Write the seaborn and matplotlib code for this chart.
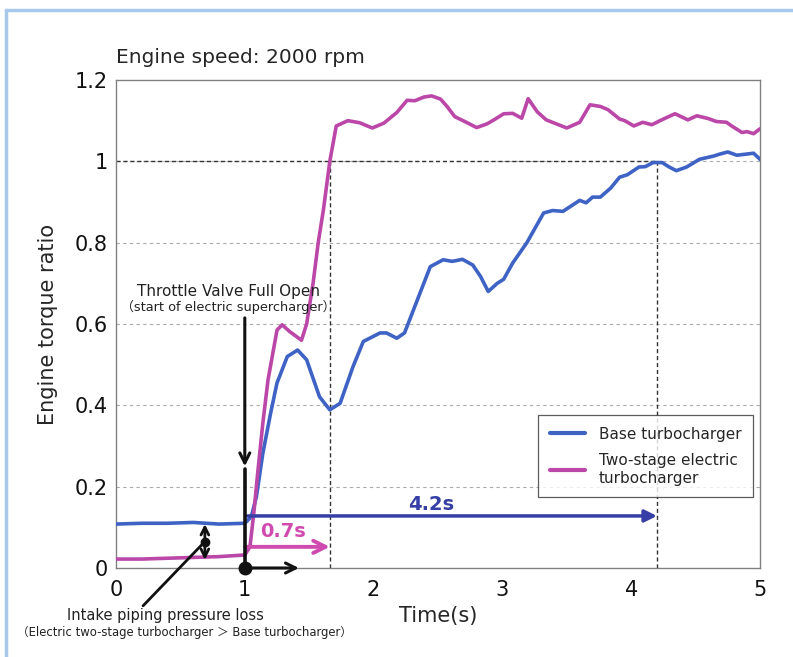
import numpy as np
import pandas as pd
import matplotlib
matplotlib.use('Agg')
import matplotlib.pyplot as plt
from matplotlib.lines import Line2D
import seaborn as sns

# Base turbocharger
base_time = [0, 0.2, 0.4, 0.6, 0.8, 1.0, 1.05, 1.09, 1.14, 1.2, 1.25, 1.33, 1.41, 1.48,
             1.58, 1.66, 1.74, 1.84, 1.92, 2.05, 2.1, 2.18, 2.24, 2.31, 2.44, 2.54, 2.61,
             2.69, 2.77, 2.83, 2.89, 2.96, 3.01, 3.08, 3.19, 3.32, 3.39, 3.47, 3.6, 3.65,
             3.7, 3.76, 3.84, 3.91, 3.97, 4.06, 4.11, 4.17, 4.24, 4.29, 4.35, 4.43, 4.53,
             4.64, 4.69, 4.75, 4.82, 4.9, 4.95, 5.0]
base_ratio = [0.108, 0.11, 0.11, 0.112, 0.108, 0.11, 0.126, 0.175, 0.282, 0.38, 0.455, 0.52,
              0.536, 0.512, 0.421, 0.389, 0.405, 0.495, 0.557, 0.578, 0.578, 0.565, 0.578,
              0.635, 0.741, 0.758, 0.754, 0.759, 0.745, 0.717, 0.68, 0.70, 0.71, 0.75, 0.80,
              0.873, 0.879, 0.877, 0.904, 0.898, 0.912, 0.912, 0.934, 0.961, 0.967, 0.986,
              0.987, 0.997, 0.997, 0.987, 0.977, 0.986, 1.005, 1.013, 1.018, 1.023, 1.015,
              1.018, 1.02, 1.005]

# Two-stage electric turbocharger
elec_time = [0, 0.2, 0.4, 0.6, 0.8, 1.0, 1.04, 1.07, 1.1, 1.14, 1.18, 1.25, 1.29, 1.35,
             1.44, 1.48, 1.53, 1.57, 1.61, 1.66, 1.71, 1.8, 1.89, 1.99, 2.08, 2.18, 2.26,
             2.32, 2.39, 2.45, 2.52, 2.57, 2.63, 2.72, 2.8, 2.88, 2.94, 3.01, 3.08, 3.15,
             3.2, 3.27, 3.34, 3.42, 3.5, 3.6, 3.68, 3.76, 3.82, 3.91, 3.95, 4.02, 4.09,
             4.16, 4.25, 4.34, 4.44, 4.51, 4.6, 4.66, 4.74, 4.78, 4.86, 4.9, 4.95, 5.0]
elec_ratio = [0.022, 0.022, 0.024, 0.026, 0.028, 0.032, 0.052, 0.135, 0.233, 0.356, 0.462,
              0.585, 0.598, 0.581, 0.56, 0.60, 0.70, 0.80, 0.88, 1.0, 1.087, 1.10, 1.095,
              1.082, 1.094, 1.12, 1.15, 1.149, 1.158, 1.161, 1.153, 1.135, 1.11, 1.096,
              1.083, 1.092, 1.103, 1.117, 1.118, 1.106, 1.154, 1.122, 1.102, 1.092, 1.082,
              1.096, 1.139, 1.135, 1.127, 1.104, 1.10, 1.087, 1.096, 1.09, 1.104, 1.117,
              1.102, 1.112, 1.105, 1.098, 1.096, 1.087, 1.071, 1.073, 1.068, 1.08]

series_names = ['Base turbocharger', 'Two-stage electric\nturbocharger']
y_ticks = [0, 0.2, 0.4, 0.6, 0.8, 1.0, 1.2]
y_tick_labels = ['0', '0.2', '0.4', '0.6', '0.8', '1', '1.2']
x_ticks = [0, 1, 2, 3, 4, 5]

t_open = 1.0      # throttle full open
t_elec = 1.66     # electric reaches ratio 1 (0.7s)
t_base = 4.2      # base reaches ratio 1 (4.2s)

blue = '#3f63c4'
magenta = '#bb47a8'
arrow_blue = '#363fa6'
arrow_pink = '#d04bb0'

df = pd.concat([
    pd.DataFrame({'time': base_time, 'ratio': base_ratio, 'series': series_names[0]}),
    pd.DataFrame({'time': elec_time, 'ratio': elec_ratio, 'series': series_names[1]}),
])

sns.set_style('white')
plt.rcParams['font.family'] = ['DejaVu Sans', 'Noto Sans CJK JP']

fig = plt.figure(figsize=(7.93, 6.57), dpi=100)
ax = fig.add_axes([116 / 793, 89 / 657, 644 / 793, 488 / 657])

sns.lineplot(data=df, x='time', y='ratio', hue='series', estimator=None,
             palette={series_names[0]: blue, series_names[1]: magenta},
             lw=2.6, ax=ax, zorder=3, solid_joinstyle='round', solid_capstyle='round')

ax.set_xlim(0, 5)
ax.set_ylim(0, 1.2)
ax.set_xticks(x_ticks)
ax.set_xticklabels([str(v) for v in x_ticks])
ax.set_yticks(y_ticks)
ax.set_yticklabels(y_tick_labels)
ax.tick_params(axis='both', direction='in', length=4, color='#888888', labelsize=15,
               labelcolor='#111111')
ax.tick_params(axis='x', pad=9, top=False)
ax.tick_params(axis='y', pad=6, right=False)
for s in ax.spines.values():
    s.set_color('#808080')
    s.set_linewidth(1)

for yv in [0.2, 0.4, 0.6, 0.8, 1.0]:
    ax.axhline(yv, color='#aaaaaa', lw=0.8, ls=(0, (3, 3)), zorder=1)

ax.set_xlabel('Time(s)', fontsize=15, labelpad=4)
ax.set_ylabel('Engine torque ratio', fontsize=15, labelpad=12)
ax.text(0.0, 1.035, 'Engine speed: 2000 rpm', transform=ax.transAxes, fontsize=14.5,
        va='baseline', ha='left')

# reference lines for time to reach ratio 1
ax.plot([0, t_base], [1, 1], color='#333333', lw=1, ls=(0, (3, 2)), zorder=2)
ax.plot([t_elec, t_elec], [0, 1], color='#333333', lw=1, ls=(0, (3, 2)), zorder=2)
ax.plot([t_base, t_base], [0, 1], color='#333333', lw=1, ls=(0, (3, 2)), zorder=2)

# time arrows
ax.annotate('', xy=(t_base, 0.128), xytext=(t_open + 0.02, 0.128),
            arrowprops=dict(arrowstyle='-|>', color=arrow_blue, lw=2.5, mutation_scale=18,
                            shrinkA=0, shrinkB=0), zorder=4)
ax.text(2.45, 0.157, '4.2s', color=arrow_blue, fontsize=14, fontweight='bold',
        ha='center', va='center')
ax.annotate('', xy=(t_elec, 0.052), xytext=(t_open, 0.052),
            arrowprops=dict(arrowstyle='->', color=arrow_pink, lw=2.8, mutation_scale=22,
                            shrinkA=0, shrinkB=0), zorder=4)
ax.text(1.30, 0.089, '0.7s', color=arrow_pink, fontsize=14, fontweight='bold',
        ha='center', va='center')

# throttle open marker
ax.annotate('', xy=(t_open, 0.25), xytext=(t_open, 0.615),
            arrowprops=dict(arrowstyle='->', color='#111111', lw=2.2, mutation_scale=18,
                            shrinkA=0, shrinkB=0), zorder=5)
ax.plot([t_open, t_open], [0, 0.243], color='#111111', lw=2.6, zorder=5, clip_on=False)
ax.annotate('', xy=(1.42, 0.0), xytext=(t_open, 0.0),
            arrowprops=dict(arrowstyle='->', color='#111111', lw=2.2, mutation_scale=18,
                            shrinkA=0, shrinkB=0), zorder=5, annotation_clip=False)
ax.plot([t_open], [0], 'o', color='#111111', ms=9, zorder=6, clip_on=False)

ax.text(0.87, 0.679, 'Throttle Valve Full Open', fontsize=11,
        ha='center', va='center', color='#222222')
ax.text(0.87, 0.641, '（start of electric supercharger）', fontsize=9.3,
        ha='center', va='center', color='#222222')

# intake pressure loss marker
ax.annotate('', xy=(0.69, 0.108), xytext=(0.69, 0.065),
            arrowprops=dict(arrowstyle='->', color='#111111', lw=2, mutation_scale=14,
                            shrinkA=0, shrinkB=0), zorder=5)
ax.annotate('', xy=(0.69, 0.02), xytext=(0.69, 0.065),
            arrowprops=dict(arrowstyle='->', color='#111111', lw=2, mutation_scale=14,
                            shrinkA=0, shrinkB=0), zorder=5)
ax.plot([0.69], [0.065], 'o', color='#111111', ms=6, zorder=6)
ax.plot([0.69, 0.21], [0.065, -0.093], color='#111111', lw=2, zorder=5, clip_on=False)
ax.text(0.38, -0.117, 'Intake piping pressure loss', fontsize=10.5,
        ha='center', va='center', color='#222222')
ax.text(0.535, -0.158, '（Electric two-stage turbocharger ＞ Base turbocharger）', fontsize=8.4,
        ha='center', va='center', color='#222222')

handles = [Line2D([], [], color=blue, lw=3), Line2D([], [], color=magenta, lw=3)]
leg = ax.legend(handles, series_names, loc='lower right', bbox_to_anchor=(0.989, 0.1455),
                borderaxespad=0, fontsize=11, frameon=True, fancybox=False,
                edgecolor='#333333', handlelength=2.3, labelspacing=0.75, borderpad=0.75,
                handletextpad=0.9)
leg.get_frame().set_linewidth(0.9)

# light blue page border (left and top)
fig.add_artist(Line2D([6 / 793, 6 / 793], [0, 1 - 10 / 657], transform=fig.transFigure,
                      color='#a8c8ea', lw=2.5))
fig.add_artist(Line2D([6 / 793, 1], [1 - 10 / 657, 1 - 10 / 657], transform=fig.transFigure,
                      color='#a8c8ea', lw=2.5))

fig.savefig('out.png', dpi=100)
